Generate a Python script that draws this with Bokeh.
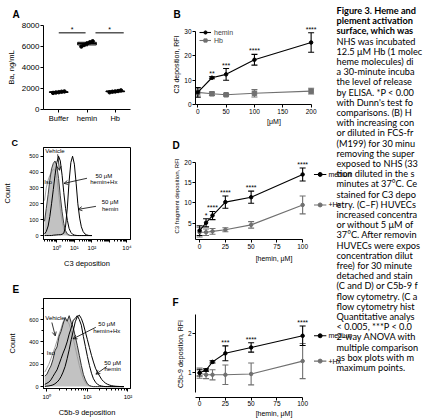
import numpy as np
from bokeh.plotting import figure
from bokeh.layouts import row, column
from bokeh.models import (Range1d, FixedTicker, Whisker, TeeHead, ColumnDataSource,
                          Legend, LegendItem, Arrow, OpenHead, Title)
from bokeh.core.properties import value
from bokeh.embed import file_html
from bokeh.resources import INLINE

FONT = "Liberation Sans"
CAPTION_FONT = "Lato"
GRAY = "#707070"

# ---------------- A: Ba release (ng/mL) ----------------
a_groups = ["Buffer", "hemin", "Hb"]
a_buffer = [1580, 1620, 1650, 1690, 1720]
a_hemin = [6000, 6150, 6280, 6400, 6500]
a_hb = [1640, 1690, 1720, 1760, 1820]
a_marks = ["*", "*"]

# ---------------- B: C3 deposition vs concentration ----------------
b_conc = [0, 25, 50, 100, 200]
b_hemin = [5.0, 11.0, 12.4, 18.4, 25.5]
b_hemin_err = [2.0, 0.4, 2.4, 2.2, 4.0]
b_hb = [5.0, 4.4, 4.0, 4.6, 5.5]
b_hb_err = [1.5, 0.7, 0.4, 1.5, 1.2]
b_marks = ["", "**", "***", "****", "****"]

# ---------------- C: C3 deposition histograms ----------------
c_bins = [0.20, 0.25, 0.32, 0.40, 0.50, 0.63, 0.79, 1.0, 1.26, 1.58, 2.0, 2.5, 3.16, 4.0,
          5.0, 6.3, 7.9, 10, 12.6, 15.8, 20, 25, 31.6, 40, 50, 63, 79, 100]
c_iso = [220, 300, 350, 380, 400, 420, 410, 360, 270, 170, 90, 40, 15, 5,
         1, 0, 0, 0, 0, 0, 0, 0, 0, 0, 0, 0, 0, 0]
c_vehicle = [90, 170, 260, 350, 420, 455, 470, 440, 360, 250, 150, 75, 30, 10,
             3, 0, 0, 0, 0, 0, 0, 0, 0, 0, 0, 0, 0, 0]
c_hemin_hx = [10, 25, 60, 120, 200, 290, 380, 460, 500, 470, 380, 270, 170, 95,
              45, 20, 8, 3, 1, 0, 0, 0, 0, 0, 0, 0, 0, 0]
c_hemin = [0, 0, 0, 0, 0, 2, 3, 4, 5, 5, 8, 15, 60, 180,
           340, 460, 500, 450, 330, 200, 110, 55, 25, 10, 4, 1, 0, 0]

# ---------------- D: C3 fragment deposition ----------------
d_conc = [0, 6.25, 12.5, 25, 50, 100]
d_medium = [3.2, 5.1, 6.9, 10.2, 11.4, 17.0]
d_medium_err = [1.2, 1.0, 1.0, 1.5, 1.5, 1.6]
d_hx = [2.8, 2.8, 3.0, 3.4, 4.6, 9.5]
d_hx_err = [1.2, 0.8, 0.7, 0.5, 0.8, 2.2]
d_marks = ["", "*", "****", "****", "****", "****"]

# ---------------- E: C5b-9 deposition histograms ----------------
e_bins = [0.891, 1.0, 1.12, 1.26, 1.41, 1.58, 1.78, 2.0, 2.24, 2.51, 2.82, 3.16, 3.55, 3.98,
          4.47, 5.01, 5.62, 6.31, 7.08, 7.94, 8.91, 10.0, 11.2, 12.6, 14.1, 15.8, 17.8, 20.0,
          22.4, 25.1, 28.2, 31.6, 35.5, 39.8, 44.7, 50.1, 56.2, 63.1, 70.8, 79.4]
e_iso = [130, 165, 200, 250, 300, 350, 410, 470, 520, 580, 600, 590, 560, 500,
         430, 350, 270, 190, 120, 70, 35, 15, 5, 1, 0, 0, 0, 0,
         0, 0, 0, 0, 0, 0, 0, 0, 0, 0, 0, 0]
e_vehicle = [95, 110, 150, 185, 240, 320, 355, 450, 495, 560, 620, 585, 635, 575,
             530, 450, 370, 280, 190, 110, 60, 25, 10, 3, 0, 0, 0, 0,
             0, 0, 0, 0, 0, 0, 0, 0, 0, 0, 0, 0]
e_hemin_hx = [20, 30, 40, 60, 90, 120, 150, 200, 250, 300, 345, 400, 470, 525,
              595, 610, 635, 600, 550, 450, 360, 270, 190, 120, 70, 40, 20, 10,
              5, 2, 0, 0, 0, 0, 0, 0, 0, 0, 0, 0]
e_hemin = [2, 4, 6, 10, 15, 25, 40, 60, 90, 130, 180, 250, 330, 420,
           500, 580, 625, 640, 610, 560, 490, 420, 350, 280, 220, 165, 125, 95,
           65, 45, 30, 20, 13, 8, 5, 3, 2, 1, 0, 0]

# ---------------- F: C5b-9 deposition ----------------
f_conc = [0, 6.25, 12.5, 25, 50, 100]
f_medium = [1.0, 1.07, 1.28, 1.5, 1.65, 1.95]
f_medium_err = [0.08, 0.03, 0.03, 0.19, 0.12, 0.25]
f_hx = [0.99, 0.95, 0.95, 0.95, 0.97, 1.3]
f_hx_err = [0.13, 0.1, 0.13, 0.25, 0.28, 0.45]
f_marks = ["", "", "", "***", "****", "****"]

# ---------------- legend column text (as far as the column shows it) ----------------
caption_bold = [
    "Figure 3. Heme and",
    "plement activation",
    "surface, which was",
]
caption_body = [
    "NHS was incubated",
    "12.5 \u03bcM Hb (1 molec",
    "heme molecules) di",
    "a 30-minute incuba",
    "the level of release",
    "by ELISA. *P < 0.00",
    "with Dunn's test fo",
    "comparisons. (B) H",
    "with increasing con",
    "or diluted in FCS-fr",
    "(M199) for 30 minu",
    "removing the super",
    "exposed to NHS (33",
    "tion diluted in the s",
    "minutes at 37\u00b0C. Ce",
    "stained for C3 depo",
    "etry. (C\u2013F) HUVECs",
    "increased concentra",
    "or without 5 \u03bcM of",
    "37\u00b0C. After removin",
    "HUVECs were expos",
    "concentration dilut",
    "free) for 30 minute",
    "detached and stain",
    "(C and D) or C5b-9 f",
    "flow cytometry. (C a",
    "flow cytometry hist",
    "Quantitative analys",
    "< 0.005, ***P < 0.0",
    "2-way ANOVA with",
    "multiple comparison",
    "as box plots with m",
    "maximum points.",
]


def base_fig(w, h, left, right, top, bottom, x_range, y_range, x_axis_type="linear"):
    p = figure(width=w, height=h, x_range=x_range, y_range=y_range, x_axis_type=x_axis_type,
               output_backend="svg", toolbar_location=None,
               min_border_left=left, min_border_right=right,
               min_border_top=top, min_border_bottom=bottom)
    p.xgrid.visible = False
    p.ygrid.visible = False
    p.outline_line_color = None
    p.background_fill_color = "white"
    p.border_fill_color = "white"
    return p


def style_axis(ax, tick_size, label_size, label_standoff=1, tick_standoff=1):
    ax.axis_line_color = "black"
    ax.axis_line_width = 1
    ax.major_tick_line_color = "black"
    ax.major_tick_out = 3
    ax.major_tick_in = 0
    ax.minor_tick_line_color = None
    ax.major_label_text_font = FONT
    ax.major_label_text_font_size = tick_size
    ax.major_label_text_color = "black"
    ax.major_label_standoff = tick_standoff
    ax.axis_label_text_font = FONT
    ax.axis_label_text_font_size = label_size
    ax.axis_label_text_font_style = "normal"
    ax.axis_label_text_color = "black"
    ax.axis_label_standoff = label_standoff


def letter(p, text, dx, standoff, size="10px"):
    p.add_layout(Title(text=text, align="left", offset=dx, standoff=standoff,
                       text_font=FONT, text_font_style="bold", text_font_size=size,
                       text_color="black"), "above")


def series(p, x, y, err, color, marker, size):
    src = ColumnDataSource(dict(x=x, y=y,
                                lo=[a - b for a, b in zip(y, err)],
                                hi=[a + b for a, b in zip(y, err)]))
    ln = p.line("x", "y", source=src, line_color=color, line_width=1.1)
    p.add_layout(Whisker(source=src, base="x", lower="lo", upper="hi", dimension="height",
                         line_color=color, line_width=1.1,
                         upper_head=TeeHead(size=6, line_color=color, line_width=1.1),
                         lower_head=TeeHead(size=6, line_color=color, line_width=1.1)))
    sc = p.scatter("x", "y", source=src, marker=marker, size=size,
                   fill_color=color, line_color=color)
    return ln, sc


def stars(p, x, y, err, marks, size="7px"):
    top = [a + b for a, b in zip(y, err)]
    p.text(x=x, y=top, text=marks, text_align="center", text_baseline="bottom",
           text_font=value(FONT), text_font_size=size, text_color="black")


def end_label(p, x, y, color, marker, text):
    # short line + marker + name placed to the right of the last point
    p.segment(x0=[x + 11], y0=[y], x1=[x + 23], y1=[y], line_color=color, line_width=1.1)
    p.scatter([x + 17], [y], marker=marker, size=4, fill_color=color, line_color=color)
    p.text([x + 25], [y], text=[text], text_baseline="middle", text_align="left",
           text_font=value(FONT), text_font_size="7px", text_color="black")


def notes(p, xs, ys, texts, align="left", size="6px"):
    p.text(x=xs, y=ys, text=texts, text_align=align, text_baseline="middle",
           text_font=value(FONT), text_font_size=size, text_color="black")


def arrow(p, x0, y0, x1, y1):
    p.add_layout(Arrow(end=OpenHead(size=4, line_width=0.8, line_color="black"),
                       x_start=x0, y_start=y0, x_end=x1, y_end=y1,
                       line_width=0.8, line_color="black"))


MID_W = 212  # middle column; the legend column overlaps its right edge
CAP_W = 88

# ================= Panel A =================
pa = base_fig(140, 135, 33, 10, 25, 26, Range1d(0.46, 3.54), Range1d(0, 8000))
a_pos = {g: i + 1 for i, g in enumerate(a_groups)}
jitter = [-0.2, -0.1, 0.0, 0.1, 0.2]
for g, vals in zip(a_groups, [a_buffer, a_hemin, a_hb]):
    x = a_pos[g]
    q1, med, q3 = np.percentile(vals, [25, 50, 75])
    pa.segment(x0=[x, x], y0=[min(vals), q3], x1=[x, x], y1=[q1, max(vals)],
               line_color="black", line_width=1)
    pa.quad(left=[x - 0.33], right=[x + 0.33], bottom=[q1], top=[q3],
            fill_color="white", line_color="black", line_width=1)
    pa.segment(x0=[x - 0.33], y0=[med], x1=[x + 0.33], y1=[med],
               line_color="black", line_width=1.2)
    pa.scatter(x=[x + j for j in jitter], y=vals, marker="circle", size=3.5,
               fill_color="black", line_color="black")
level = 7300
for (g1, g2), mark, (o1, o2) in zip([("Buffer", "hemin"), ("hemin", "Hb")], a_marks,
                                    [(0.0, -0.05), (0.3, 0.3)]):
    x1, x2 = a_pos[g1] + o1, a_pos[g2] + o2
    pa.segment(x0=[x1], y0=[level], x1=[x2], y1=[level], line_color="black", line_width=1)
    pa.text(x=[(x1 + x2) / 2], y=[level], text=[mark], text_align="center",
            text_baseline="bottom", text_font=value(FONT), text_font_size="7px")
pa.xaxis.ticker = FixedTicker(ticks=list(a_pos.values()))
pa.xaxis.major_label_overrides = {v: k for k, v in a_pos.items()}
pa.yaxis.ticker = FixedTicker(ticks=[0, 2000, 4000, 6000, 8000])
pa.yaxis.axis_label = "Ba, ng/mL"
style_axis(pa.xaxis[0], "7.5px", "7.5px")
style_axis(pa.yaxis[0], "8px", "7.5px", label_standoff=3)
letter(pa, "A", -31, 12)

# ================= Panel B =================
pb = base_fig(MID_W, 135, 54, 0, 24, 31, Range1d(-4, 273), Range1d(0, 32.9))
gl, gs = series(pb, b_conc, b_hb, b_hb_err, GRAY, "square", 4.5)
hl, hs = series(pb, b_conc, b_hemin, b_hemin_err, "black", "circle", 3.5)
stars(pb, b_conc, b_hemin, b_hemin_err, b_marks)
pb.xaxis.ticker = FixedTicker(ticks=[0, 50, 100, 150, 200])
pb.yaxis.ticker = FixedTicker(ticks=[0, 10, 20, 30])
pb.xaxis.bounds = (-4, 200)
pb.yaxis.bounds = (0, 30)
pb.xaxis.axis_label = "[\u03bcM]"
pb.yaxis.axis_label = "C3 deposition, RFI"
style_axis(pb.xaxis[0], "6.5px", "7px")
style_axis(pb.yaxis[0], "6.5px", "7px", label_standoff=1)
leg = Legend(items=[LegendItem(label="hemin", renderers=[hl, hs]),
                    LegendItem(label="Hb", renderers=[gl, gs])],
             location="top_left", margin=4, padding=0, spacing=0,
             glyph_width=12, glyph_height=8, label_height=8, label_standoff=3,
             label_text_font=FONT, label_text_font_size="7px",
             border_line_color=None, background_fill_alpha=0)
pb.add_layout(leg)
letter(pb, "B", -22, 10)

# ================= Panel C =================
pc = base_fig(140, 140, 33, 9, 10, 36, Range1d(0.174, 15850), Range1d(-25, 555),
              x_axis_type="log")
pc.outline_line_color = "black"
pc.outline_line_width = 1
pc.varea(x=c_bins, y1=0, y2=c_vehicle, fill_color="#c2c2c2")
pc.line(c_bins, c_iso, line_color="#a0a0a0", line_width=1)
pc.line(c_bins, c_vehicle, line_color="#404040", line_width=1)
pc.line(c_bins, c_hemin_hx, line_color="black", line_width=1)
pc.line(c_bins, c_hemin, line_color="black", line_width=1)
notes(pc, [0.22, 0.19], [530, 335], ["Vehicle", "Iso"])
notes(pc, [480, 480, 1096, 1096], [373, 335, 209, 165],
      ["50 \u03bcM", "hemin+Hx", "50 \u03bcM", "hemin"], align="center")
arrow(pc, 1.12, 512, 1.42, 411)
arrow(pc, 52.5, 361, 2.54, 329)
arrow(pc, 170, 184, 16.4, 165)
c_major = [1, 10, 100, 1000, 10000]
pc.xaxis.ticker = FixedTicker(ticks=c_major,
                              minor_ticks=[m * d for d in [0.1] + c_major[:-1] for m in range(2, 10)])
pc.xaxis.major_label_overrides = {1: "10\u2070", 10: "10\u00b9", 100: "10\u00b2",
                                  1000: "", 10000: "10\u2074"}
pc.yaxis.ticker = FixedTicker(ticks=[0, 100, 200, 300, 400, 500])
pc.xaxis.axis_label = "C3 deposition"
pc.yaxis.axis_label = "Count"
style_axis(pc.xaxis[0], "6px", "7.5px", label_standoff=5, tick_standoff=2)
style_axis(pc.yaxis[0], "5.5px", "7.5px", label_standoff=14, tick_standoff=2)
pc.xaxis.minor_tick_line_color = "black"
pc.xaxis.minor_tick_out = 2
pc.xaxis.minor_tick_in = 0
letter(pc, "C", -32, 0, size="9px")

# ================= Panel D =================
pd_ = base_fig(MID_W, 140, 55, 0, 17, 36, Range1d(-4, 148.4), Range1d(1, 22.4))
dl2, ds2 = series(pd_, d_conc, d_hx, d_hx_err, GRAY, "circle", 3.5)
dl1, ds1 = series(pd_, d_conc, d_medium, d_medium_err, "black", "circle", 3.5)
stars(pd_, d_conc, d_medium, d_medium_err, d_marks)
end_label(pd_, d_conc[-1], d_medium[-1], "black", "circle", "medium")
end_label(pd_, d_conc[-1], d_hx[-1], GRAY, "circle", "+Hx")
pd_.xaxis.ticker = FixedTicker(ticks=[0, 25, 50, 75, 100])
pd_.yaxis.ticker = FixedTicker(ticks=[5, 10, 15, 20])
pd_.xaxis.bounds = (-4, 100)
pd_.yaxis.bounds = (1, 20)
pd_.xaxis.axis_label = "[hemin, \u03bcM]"
pd_.yaxis.axis_label = "C3 fragment deposition, RFI"
style_axis(pd_.xaxis[0], "6.5px", "7px", label_standoff=3)
style_axis(pd_.yaxis[0], "6.5px", "6px", label_standoff=1)
letter(pd_, "D", -23, 4)

# ================= Panel E =================
pe = base_fig(140, 144, 33, 4, 23, 27, Range1d(0.826, 115.5), Range1d(-17, 789),
              x_axis_type="log")
pe.outline_line_color = "black"
pe.outline_line_width = 1
pe.varea(x=e_bins, y1=0, y2=e_vehicle, fill_color="#c2c2c2")
pe.line(e_bins, e_iso, line_color="#a0a0a0", line_width=1)
pe.line(e_bins, e_vehicle, line_color="#303030", line_width=1)
pe.line(e_bins, e_hemin_hx, line_color="black", line_width=1)
pe.line(e_bins, e_hemin, line_color="black", line_width=1)
notes(pe, [0.91, 1.0], [617, 300], ["Vehicle", "Iso"])
notes(pe, [30, 30, 42, 42], [557, 497, 214, 154],
      ["50 \u03bcM", "hemin+Hx", "50 \u03bcM", "hemin"], align="center")
arrow(pe, 1.33, 574, 1.61, 454)
arrow(pe, 16.1, 531, 4.43, 428)
arrow(pe, 30.1, 180, 16.2, 111)
e_major = [1, 10, 100]
pe.xaxis.ticker = FixedTicker(ticks=e_major,
                              minor_ticks=[m * d for d in e_major[:-1] for m in range(2, 10)])
pe.xaxis.major_label_overrides = {1: "10\u2070", 10: "10\u00b9", 100: "10\u00b2"}
pe.yaxis.ticker = FixedTicker(ticks=[0, 200, 400, 600], minor_ticks=[100, 300, 500, 700])
pe.xaxis.axis_label = "C5b-9 deposition"
pe.yaxis.axis_label = "Count"
style_axis(pe.xaxis[0], "6px", "7.5px", label_standoff=5, tick_standoff=2)
style_axis(pe.yaxis[0], "5.5px", "7.5px", label_standoff=9, tick_standoff=2)
for ax in (pe.xaxis[0], pe.yaxis[0]):
    ax.minor_tick_line_color = "black"
    ax.minor_tick_out = 2
    ax.minor_tick_in = 0
letter(pe, "E", -31, 7)

# ================= Panel F =================
pf = base_fig(MID_W, 144, 55, 0, 35, 22, Range1d(-4, 148.4), Range1d(0.367, 2.598))
fl2, fs2 = series(pf, f_conc, f_hx, f_hx_err, GRAY, "circle", 3.5)
fl1, fs1 = series(pf, f_conc, f_medium, f_medium_err, "black", "circle", 3.5)
stars(pf, f_conc, f_medium, f_medium_err, f_marks)
end_label(pf, f_conc[-1], f_medium[-1], "black", "circle", "medium")
end_label(pf, f_conc[-1], f_hx[-1], GRAY, "circle", "+Hx")
pf.xaxis.ticker = FixedTicker(ticks=[0, 25, 50, 75, 100])
pf.yaxis.ticker = FixedTicker(ticks=[1, 2])
pf.xaxis.bounds = (-4, 100)
pf.yaxis.bounds = (0.5, 2.5)
pf.xaxis.axis_label = "[hemin, \u03bcM]"
pf.yaxis.axis_label = "C5b-9 deposition, RFI"
style_axis(pf.xaxis[0], "6.5px", "7px", label_standoff=1, tick_standoff=0)
style_axis(pf.yaxis[0], "6.5px", "7px", label_standoff=1)
letter(pf, "F", -23, 6)

# ================= Legend text column =================
cap = figure(width=CAP_W, height=419, x_range=Range1d(0, CAP_W), y_range=Range1d(419, 0),
             output_backend="svg", toolbar_location=None,
             x_axis_location=None, y_axis_location=None,
             min_border_left=0, min_border_right=0, min_border_top=0, min_border_bottom=0)
cap.xgrid.visible = False
cap.ygrid.visible = False
cap.outline_line_color = None
cap.background_fill_alpha = 0
cap.border_fill_alpha = 0
cap.margin = (0, 0, 0, 423 - (140 + MID_W + CAP_W))
line_h = 10.2
cap.text(x=[1] * len(caption_bold), y=[10 + line_h * i for i in range(len(caption_bold))],
         text=caption_bold, text_font=value(CAPTION_FONT), text_font_style="bold",
         text_font_size="9.2px", text_baseline="middle", text_color="black")
n0 = len(caption_bold)
cap.text(x=[1] * len(caption_body),
         y=[10 + line_h * (n0 + i) for i in range(len(caption_body))],
         text=caption_body, text_font=value(CAPTION_FONT),
         text_font_size="9.2px", text_baseline="middle", text_color="black")

layout = row(column(pa, pc, pe), column(pb, pd_, pf), cap)
open("out.html", "w").write(file_html(layout, INLINE))
